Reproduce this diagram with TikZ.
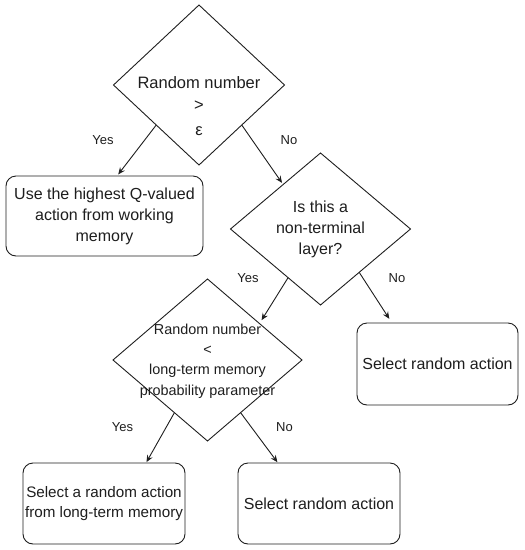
\documentclass[tikz,border=0pt]{standalone}
\usepackage{fontspec}
\setmainfont{Liberation Sans}
\usetikzlibrary{shapes.geometric,arrows.meta,calc}
\definecolor{ink}{HTML}{1E1E1E}
\tikzset{
  dia/.style={draw=ink, line width=0.9pt, shape=diamond, inner sep=0pt, outer sep=0pt},
  dtext/.style={text=ink, align=center, inner sep=0pt},
  box/.style={draw=ink, line width=0.9pt, rounded corners=10pt, align=center, text=ink, inner sep=1pt, outer sep=0pt,
              font=\fontsize{16}{21}\selectfont},
  conn/.style={draw=ink, line width=0.9pt, -{Stealth[length=7pt,width=6pt,inset=2.5pt]}},
  lbl/.style={text=ink, inner sep=0pt, font=\fontsize{13}{15}\selectfont}
}
\begin{document}
\begin{tikzpicture}[x=1pt,y=-1pt]
\useasboundingbox (0,0) rectangle (525,550);
\fill[white] (0,0) rectangle (525,550);

% decisions
\node[dia, minimum width=171pt, minimum height=160pt] (d1) at (199,85) {};
\node[dtext, font=\fontsize{16.5}{21}\selectfont] (d1t) at (199,106) {Random number\\[1pt]>\\[4pt]ε};

\node[dia, minimum width=180pt, minimum height=152pt] (d2) at (320.5,229) {};
\node[dtext, font=\fontsize{16}{21}\selectfont] (d2t) at (d2.center) {Is this a\\non-terminal\\layer?};

\node[dia, minimum width=189pt, minimum height=162pt] (d3) at (207.5,360) {};
\node[dtext, font=\fontsize{14.4}{20.3}\selectfont] (d3t) at (207.5,361) {Random number\\<\\long-term memory\\probability parameter};

% actions
\node[box, minimum width=197pt, minimum height=80pt] (b1) at (104.5,216) {Use the highest Q-valued\\action from working\\memory};
\node[box, minimum width=161pt, minimum height=82pt] (b3) at (437.5,364) {Select random action};
\node[box, minimum width=162pt, minimum height=81pt, font=\fontsize{15.2}{19.5}\selectfont] (b4) at (104,503.5) {Select a random action\\from long-term memory};
\node[box, minimum width=162pt, minimum height=81pt] (b5) at (319,503.5) {Select random action};

% connectors
\draw[conn, shorten >=2pt] (d1.south west) -- ([xshift=12.5pt]b1.north);
\draw[conn, shorten >=2pt] (d1.south east) -- ($(d2.west)!0.585!(d2.north)$);
\draw[conn, shorten >=4pt] ($(d2.west)!0.64!(d2.south)$) -- ($(d3.north)!0.55!(d3.east)$);
\draw[conn, shorten >=5pt] ($(d2.south)!0.43!(d2.east)$) -- ([xshift=-45.5pt]b3.north);
\draw[conn, shorten >=1pt] ($(d3.west)!0.65!(d3.south)$) -- ([xshift=42pt]b4.north);
\draw[conn, shorten >=1pt] ($(d3.south)!0.35!(d3.east)$) -- ([xshift=-41pt]b5.north);

% labels
\node[lbl] (l1) at (103,140) {Yes};
\node[lbl] (l2) at (289,140) {No};
\node[lbl] (l3) at (248,278) {Yes};
\node[lbl] (l4) at (397,278) {No};
\node[lbl] (l5) at (122.5,427) {Yes};
\node[lbl] (l6) at (284.5,427) {No};
\end{tikzpicture}
\end{document}
